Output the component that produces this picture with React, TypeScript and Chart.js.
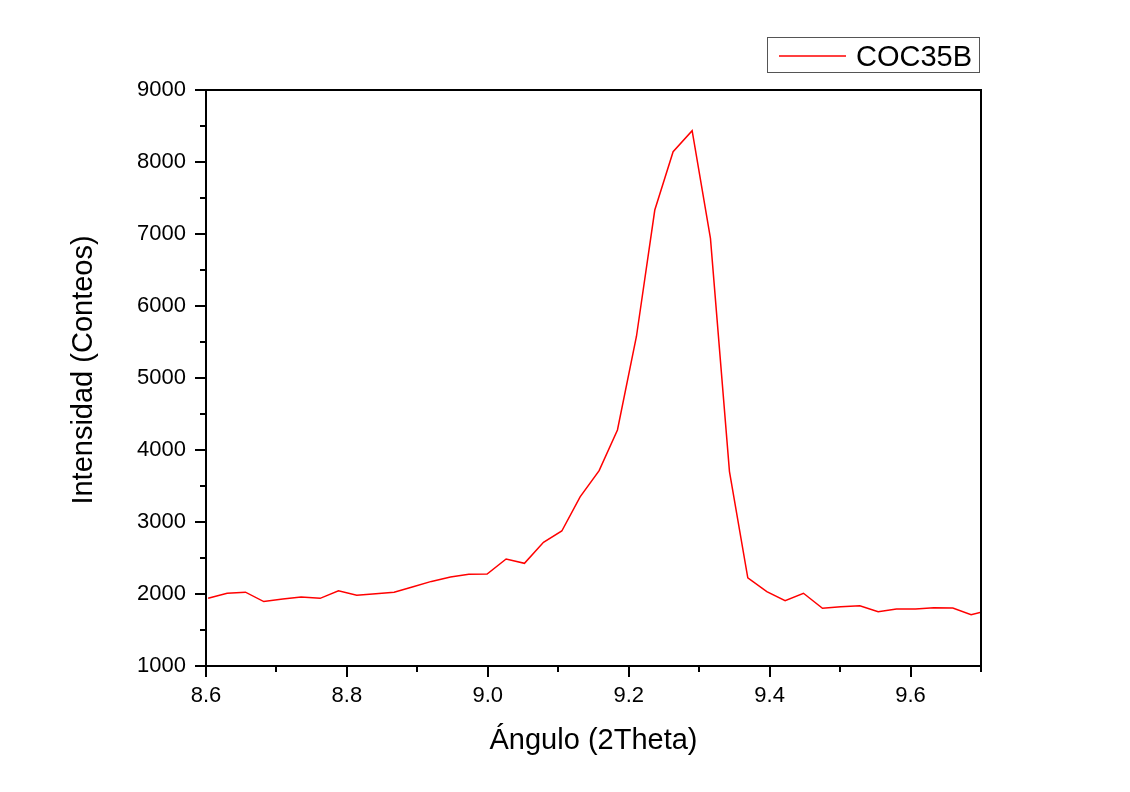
import { useEffect, useRef } from 'react';
import { Chart, registerables } from 'chart.js';

Chart.register(...registerables);

// Diffraction scan: 2θ angle (degrees) and detector counts
const ANGLES = [
  8.603, 8.630, 8.656, 8.682, 8.709, 8.735, 8.762, 8.788, 8.814, 8.841,
  8.867, 8.894, 8.920, 8.947, 8.973, 8.999, 9.026, 9.052, 9.079, 9.105,
  9.131, 9.158, 9.184, 9.211, 9.237, 9.263, 9.290, 9.316, 9.343, 9.369,
  9.396, 9.422, 9.448, 9.475, 9.501, 9.528, 9.554, 9.580, 9.607, 9.633,
  9.660, 9.686, 9.713,
];
const COUNTS = [
  1940, 2010, 2025, 1895, 1930, 1958, 1940, 2046, 1982, 2004,
  2024, 2100, 2175, 2236, 2274, 2278, 2486, 2426, 2718, 2875,
  3350, 3713, 4278, 5580, 7333, 8143, 8435, 6940, 3700, 2225,
  2032, 1907, 2010, 1801, 1824, 1838, 1754, 1792, 1792, 1810,
  1806, 1713, 1775,
];

const SERIES_LABEL = 'COC35B';
const X_TITLE = 'Ángulo (2Theta)';
const Y_TITLE = 'Intensidad (Conteos)';
const X_TICKS = [8.6, 8.8, 9.0, 9.2, 9.4, 9.6];
const Y_TICKS = [1000, 2000, 3000, 4000, 5000, 6000, 7000, 8000, 9000];
const X_RANGE = [8.6, 9.7];
const Y_RANGE = [1000, 9000];
const X_MINOR_STEP = 0.1;
const Y_MINOR_STEP = 500;

const FONT = "'Liberation Sans', Arial, sans-serif";
const LINE_COLOR = '#ff0000';

// Box frame, outward major/minor ticks, rotated y title and framed legend
const framePlugin = {
  id: 'frame',
  afterDraw(chart: any) {
    const { ctx, chartArea: a, scales } = chart;
    const xs = scales.x;
    const ys = scales.y;
    ctx.save();
    ctx.strokeStyle = '#000';
    ctx.lineWidth = 2;
    ctx.strokeRect(a.left, a.top, a.right - a.left, a.bottom - a.top);

    ctx.beginPath();
    const ySteps = Math.round((Y_RANGE[1] - Y_RANGE[0]) / Y_MINOR_STEP);
    for (let i = 0; i <= ySteps; i++) {
      const v = Y_RANGE[0] + i * Y_MINOR_STEP;
      const py = Math.round(ys.getPixelForValue(v));
      const len = i % 2 === 0 ? 11 : 6;
      ctx.moveTo(a.left, py);
      ctx.lineTo(a.left - len, py);
    }
    const xSteps = Math.round((X_RANGE[1] - X_RANGE[0]) / X_MINOR_STEP);
    for (let i = 0; i <= xSteps; i++) {
      const v = X_RANGE[0] + i * X_MINOR_STEP;
      const px = Math.round(xs.getPixelForValue(v));
      const len = i % 2 === 0 ? 11 : 6;
      ctx.moveTo(px, a.bottom);
      ctx.lineTo(px, a.bottom + len);
    }
    ctx.stroke();

    // y axis title
    ctx.save();
    ctx.translate(84, 370);
    ctx.rotate(-Math.PI / 2);
    ctx.fillStyle = '#000';
    ctx.font = `29px ${FONT}`;
    ctx.textAlign = 'center';
    ctx.textBaseline = 'middle';
    ctx.fillText(Y_TITLE, 0, 0);
    ctx.restore();

    // legend
    const ds = chart.data.datasets[0];
    const boxRight = a.right - 1.5;
    const boxLeft = boxRight - 212;
    const boxTop = 37.5;
    const boxH = 35;
    ctx.strokeStyle = '#555';
    ctx.lineWidth = 1;
    ctx.strokeRect(boxLeft, boxTop, boxRight - boxLeft, boxH);
    ctx.strokeStyle = ds.borderColor;
    ctx.lineWidth = 1.5;
    ctx.beginPath();
    ctx.moveTo(boxLeft + 11.5, 56);
    ctx.lineTo(boxLeft + 78.5, 56);
    ctx.stroke();
    ctx.fillStyle = '#000';
    ctx.font = `29px ${FONT}`;
    ctx.textAlign = 'left';
    ctx.textBaseline = 'alphabetic';
    ctx.fillText(ds.label, boxLeft + 88.5, 66);
    ctx.restore();
  },
};

export default function App() {
  const canvasRef = useRef<HTMLCanvasElement | null>(null);

  useEffect(() => {
    const canvas = canvasRef.current;
    if (!canvas) return;
    const chart = new Chart(canvas, {
      type: 'line',
      data: {
        datasets: [
          {
            label: SERIES_LABEL,
            data: ANGLES.map((x, i) => ({ x, y: COUNTS[i] })),
            borderColor: LINE_COLOR,
            backgroundColor: LINE_COLOR,
            borderWidth: 1.5,
            pointRadius: 0,
            tension: 0,
            fill: false,
          },
        ],
      },
      options: {
        responsive: false,
        animation: false,
        events: [],
        layout: { padding: { top: 90, right: 149, left: 0, bottom: 0 } },
        plugins: {
          legend: { display: false },
          tooltip: { enabled: false },
        },
        scales: {
          x: {
            type: 'linear',
            min: X_RANGE[0],
            max: X_RANGE[1],
            grid: { display: false, drawTicks: false },
            border: { display: false },
            afterBuildTicks: (s: any) => {
              s.ticks = X_TICKS.map((value) => ({ value }));
            },
            afterFit: (s: any) => {
              s.height = 126;
            },
            ticks: {
              color: '#000',
              padding: 17,
              maxRotation: 0,
              autoSkip: false,
              font: { family: FONT, size: 22 },
              callback: (v: any) => Number(v).toFixed(1),
            },
            title: {
              display: true,
              text: X_TITLE,
              color: '#000',
              font: { family: FONT, size: 29 },
              padding: { top: 0, bottom: 34 },
            },
          },
          y: {
            type: 'linear',
            min: Y_RANGE[0],
            max: Y_RANGE[1],
            grid: { display: false, drawTicks: false },
            border: { display: false },
            afterBuildTicks: (s: any) => {
              s.ticks = Y_TICKS.map((value) => ({ value }));
            },
            afterFit: (s: any) => {
              s.width = 206;
            },
            ticks: {
              color: '#000',
              padding: 20,
              autoSkip: false,
              font: { family: FONT, size: 22 },
              callback: (v: any) => String(v),
            },
          },
        },
      },
      plugins: [framePlugin],
    });
    return () => chart.destroy();
  }, []);

  return (
    <div style={{ position: 'fixed', left: 0, top: 0, width: 1130, height: 792, background: '#fff' }}>
      <canvas ref={canvasRef} width={1130} height={792} />
    </div>
  );
}
